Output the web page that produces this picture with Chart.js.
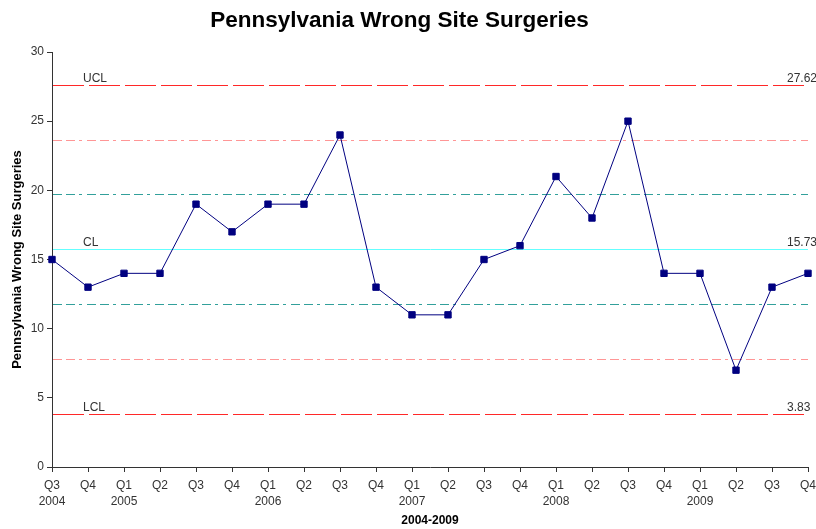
<!DOCTYPE html>
<html>
<head>
<meta charset="utf-8">
<script src="https://cdn.jsdelivr.net/npm/chart.js@4"></script>
<style>
  html, body { margin: 0; padding: 0; background: #fff; }
  #wrap { width: 816px; height: 529px; }
</style>
</head>
<body>
<div id="wrap"><canvas id="chart" width="816" height="529"></canvas></div>
<script>
// quarters, Q3 2004 .. Q4 2009
const quarters = ['Q3', 'Q4', 'Q1', 'Q2', 'Q3', 'Q4', 'Q1', 'Q2', 'Q3', 'Q4', 'Q1',
    'Q2', 'Q3', 'Q4', 'Q1', 'Q2', 'Q3', 'Q4', 'Q1', 'Q2', 'Q3', 'Q4'];
const years = ['2004', '', '2005', '', '', '', '2006', '', '', '', '2007',
    '', '', '', '2008', '', '', '', '2009', '', '', ''];
const surgeries = [15, 13, 14, 14, 19, 17, 19, 19, 24, 13, 11, 11, 15, 16, 21, 18, 25, 14, 14, 7, 13, 14];

// control limits
const limitValues = [27.62, 23.66, 19.70, 15.73, 11.77, 7.80, 3.83];
const limitNames = ['UCL', '', '', 'CL', '', '', 'LCL'];
const yTicks = [0, 5, 10, 15, 20, 25, 30];

const dashDot = [9, 4, 9, 4, 3, 5];
const limitStyles = [
    { color: 'rgb(255,40,40)', dash: [31, 5], showValue: true },
    { color: 'rgb(255,150,150)', dash: dashDot },
    { color: 'rgb(50,160,155)', dash: dashDot },
    { color: 'rgb(100,255,255)', dash: [], showValue: true },
    { color: 'rgb(50,160,155)', dash: dashDot },
    { color: 'rgb(255,150,150)', dash: dashDot },
    { color: 'rgb(255,40,40)', dash: [31, 5], showValue: true }
];

const labels = quarters.map((q, i) => years[i] ? [q, years[i]] : q);

const controlLines = {
    id: 'controlLines',
    afterLayout(chart) {
        // title sits a little left of the canvas centre
        if (chart.titleBlock) chart.titleBlock.right -= 16;
    },
    beforeDatasetsDraw(chart) {
        const { ctx, chartArea, scales: { y } } = chart;
        // lines first
        limitValues.forEach((v, i) => {
            const py = Math.round(y.getPixelForValue(v)) + 0.5;
            const st = limitStyles[i];
            ctx.save();
            ctx.strokeStyle = st.color;
            ctx.lineWidth = 1;
            ctx.setLineDash(st.dash);
            ctx.beginPath();
            ctx.moveTo(chartArea.left + 1, py);
            ctx.lineTo(chartArea.right, py);
            ctx.stroke();
            ctx.restore();
        });
        // then the labels
        ctx.save();
        ctx.fillStyle = '#333';
        ctx.font = '12px "Liberation Sans", Arial, sans-serif';
        ctx.textBaseline = 'bottom';
        ctx.textAlign = 'left';
        limitValues.forEach((v, i) => {
            const py = Math.round(y.getPixelForValue(v));
            if (limitNames[i]) ctx.fillText(limitNames[i], chartArea.left + 31, py);
            if (limitStyles[i].showValue) ctx.fillText(v.toFixed(2), chartArea.right - 21, py);
        });
        ctx.restore();
    }
};

new Chart(document.getElementById('chart'), {
    type: 'line',
    data: {
        labels: labels,
        datasets: [{
            data: surgeries,
            borderColor: '#000080',
            backgroundColor: '#000080',
            borderWidth: 1,
            pointStyle: 'rect',
            pointRadius: 4.5,
            pointBorderWidth: 1,
            pointBorderColor: '#000080',
            pointBackgroundColor: '#000080',
            tension: 0,
            fill: false
        }]
    },
    options: {
        responsive: false,
        animation: false,
        layout: { padding: { top: 0, left: 0, right: 1, bottom: 0 } },
        plugins: {
            legend: { display: false },
            tooltip: { enabled: false },
            title: {
                display: true,
                text: 'Pennsylvania Wrong Site Surgeries',
                color: '#000',
                font: { family: '"Liberation Sans", Arial, sans-serif', size: 22.5, weight: 'bold' },
                padding: { top: 7, bottom: 18 }
            }
        },
        scales: {
            x: {
                offset: false,
                grid: { drawOnChartArea: false, drawTicks: true, tickLength: 5, color: '#333' },
                border: { color: '#333' },
                ticks: {
                    autoSkip: false,
                    maxRotation: 0,
                    padding: 6,
                    color: '#333',
                    font: { family: '"Liberation Sans", Arial, sans-serif', size: 12, lineHeight: 1.3 }
                },
                title: {
                    display: true,
                    text: '2004-2009',
                    color: '#000',
                    font: { family: '"Liberation Sans", Arial, sans-serif', size: 12, weight: 'bold' },
                    padding: { top: 0, bottom: 1 }
                },
                afterFit(scale) {
                    scale.height = 62;
                    scale.paddingRight = 8;
                }
            },
            y: {
                min: 0,
                max: 30,
                afterBuildTicks(scale) { scale.ticks = yTicks.map(v => ({ value: v })); },
                grid: { drawOnChartArea: false, drawTicks: true, tickLength: 5, color: '#333' },
                border: { color: '#333' },
                ticks: {
                    padding: 3,
                    color: '#333',
                    font: { family: '"Liberation Sans", Arial, sans-serif', size: 12 }
                },
                title: {
                    display: true,
                    text: 'Pennsylvania Wrong Site Surgeries',
                    color: '#000',
                    font: { family: '"Liberation Sans", Arial, sans-serif', size: 13, weight: 'bold' },
                    padding: { top: 10, bottom: 0 }
                },
                afterFit(scale) { scale.width = 52; }
            }
        }
    },
    plugins: [controlLines]
});
</script>
</body>
</html>
